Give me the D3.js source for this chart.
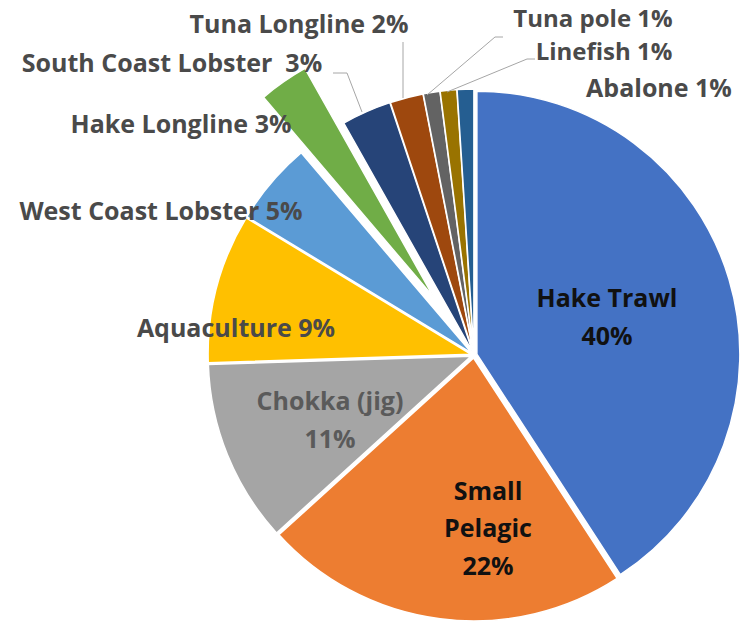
<!DOCTYPE html>
<html>
<head>
<meta charset="utf-8">
<script src="https://cdn.jsdelivr.net/npm/d3@7/dist/d3.min.js"></script>
<style>
  html, body { margin: 0; padding: 0; background: #ffffff; }
  svg { display: block; }
  text { font-family: "Open Sans", Lato, sans-serif; font-weight: 700; }
</style>
</head>
<body>
<script>
// Share of fishing-sector value by fishery (%)
const categories = [
  "Hake Trawl", "Small Pelagic", "Chokka (jig)", "Aquaculture",
  "West Coast Lobster", "Hake Longline", "South Coast Lobster",
  "Tuna Longline", "Tuna pole", "Linefish", "Abalone"
];
const values = [40, 22, 11, 9, 5, 3, 3, 2, 1, 1, 1];
const sliceColors = [
  "#4472C4", "#ED7D31", "#A5A5A5", "#FFC000", "#5B9BD5", "#70AD47",
  "#264478", "#9E480E", "#636363", "#997300", "#255E91"
];

const W = 740, H = 626;
const cx = 474, cy = 355, R = 263;

// how far each wedge is pulled out from the centre
const pullOut = { "Hake Longline": 70 };
const defaultPull = 3;

const svg = d3.select("body").append("svg")
  .attr("width", W).attr("height", H);

const pie = d3.pie().sort(null).value(d => d.value);
const arc = d3.arc().innerRadius(0).outerRadius(R);

const rows = categories.map((c, i) => ({ name: c, value: values[i], color: sliceColors[i] }));
const arcs = pie(rows);

const g = svg.append("g").attr("transform", `translate(${cx},${cy})`);

g.selectAll("path.slice")
  .data(arcs)
  .join("path")
  .attr("class", "slice")
  .attr("d", arc)
  .attr("fill", d => d.data.color)
  .attr("stroke", "#ffffff")
  .attr("stroke-width", 1.5)
  .attr("transform", d => {
    const mid = (d.startAngle + d.endAngle) / 2;
    const e = pullOut[d.data.name] ?? defaultPull;
    return `translate(${Math.sin(mid) * e},${-Math.cos(mid) * e})`;
  });

// label placement (page coordinates): x centre, baselines, colour, size
const labelLayout = {
  "Hake Trawl":         { x: 607, ys: [307, 345], color: "#111111", size: 25, lines: d => [d.name, d.pct] },
  "Small Pelagic":      { x: 488, ys: [500, 537, 575], color: "#111111", size: 25, lines: d => ["Small", "Pelagic", d.pct] },
  "Chokka (jig)":       { x: 330, ys: [410, 448], color: "#5a5a5a", size: 25, lines: d => [d.name, d.pct] },
  "Aquaculture":        { x: 236, ys: [337], color: "#4a4a4a", size: 25, lines: d => [d.name + " " + d.pct] },
  "West Coast Lobster": { x: 161, ys: [220], color: "#4a4a4a", size: 25, lines: d => [d.name + " " + d.pct] },
  "Hake Longline":      { x: 181, ys: [133], color: "#4a4a4a", size: 25, lines: d => [d.name + " " + d.pct] },
  "South Coast Lobster":{ x: 172, ys: [72], color: "#4a4a4a", size: 25, lines: d => [d.name + "\u00a0 " + d.pct] },
  "Tuna Longline":      { x: 299, ys: [33], color: "#4a4a4a", size: 25, lines: d => [d.name + " " + d.pct] },
  "Tuna pole":          { x: 593, ys: [27], color: "#4a4a4a", size: 24, lines: d => [d.name + " " + d.pct] },
  "Linefish":           { x: 604, ys: [60], color: "#4a4a4a", size: 24, lines: d => [d.name + " " + d.pct] },
  "Abalone":            { x: 659, ys: [97], color: "#4a4a4a", size: 25, lines: d => [d.name + " " + d.pct] }
};

// leader lines from outside labels to their wedges
const leaders = {
  "South Coast Lobster": [[333, 73], [347, 73], [362, 112]],
  "Tuna Longline":       [[403, 42], [403, 98]],
  "Tuna pole":           [[503, 37], [495, 37], [427, 95]],
  "Linefish":            [[535, 59], [527, 59], [447, 92]]
};

svg.append("g").selectAll("path.leader")
  .data(Object.entries(leaders))
  .join("path")
  .attr("class", "leader")
  .attr("d", ([, pts]) => d3.line()(pts))
  .attr("fill", "none")
  .attr("stroke", "#a6a6a6")
  .attr("stroke-width", 1);

const labelData = rows.map(r => ({ ...r, pct: r.value + "%" }));

const labels = svg.append("g").selectAll("text.label")
  .data(labelData)
  .join("text")
  .attr("class", "label")
  .attr("text-anchor", "middle")
  .attr("fill", d => labelLayout[d.name].color)
  .attr("font-size", d => labelLayout[d.name].size);

labels.each(function (d) {
  const L = labelLayout[d.name];
  d3.select(this).selectAll("tspan")
    .data(L.lines(d))
    .join("tspan")
    .attr("x", L.x)
    .attr("y", (t, i) => L.ys[i])
    .text(t => t);
});
</script>
</body>
</html>
